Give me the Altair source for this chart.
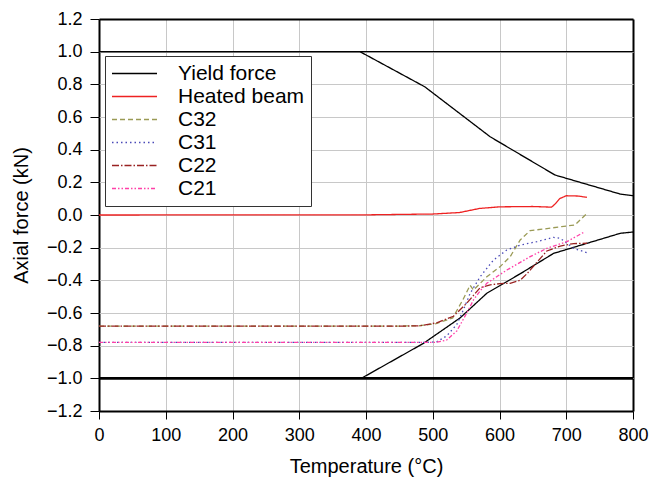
import altair as alt
import pandas as pd

# ---------------- data ----------------
series_order = ["Yield force", "Heated beam", "C32", "C31", "C22", "C21"]
series_colors = ["#000000", "#ee2222", "#9a9a55", "#4a4ab8", "#992222", "#ff40a8"]
series_dashes = [[1, 0], [1, 0], [5, 3], [1.5, 3], [7, 2, 1.5, 2], [4, 2, 1.5, 2, 1.5, 2]]

yield_upper_T = [0, 391, 488, 586, 683, 781, 800]
yield_upper_v = [1.0, 1.0, 0.785, 0.479, 0.245, 0.128, 0.118]

yield_lower_T = [0, 393, 486, 541, 581, 631, 681, 781, 800]
yield_lower_v = [-1.0, -1.0, -0.786, -0.63, -0.479, -0.36, -0.235, -0.112, -0.104]

heated_T = [0, 400, 500, 540, 570, 600, 650, 678, 684, 690, 700, 718, 731]
heated_v = [0.0, 0.001, 0.006, 0.015, 0.04, 0.05, 0.052, 0.048, 0.07, 0.1, 0.118, 0.116, 0.108]

c32_T = [0, 450, 480, 505, 530, 545, 556, 561, 581, 601, 616, 631, 646, 666, 693, 713, 718, 731]
c32_v = [-0.68, -0.68, -0.678, -0.665, -0.63, -0.52, -0.43, -0.46, -0.378, -0.316, -0.255,
         -0.153, -0.095, -0.086, -0.071, -0.061, -0.041, 0.01]

c31_T = [0, 490, 506, 521, 536, 546, 556, 571, 591, 611, 631, 656, 681, 691, 701, 711, 731]
c31_v = [-0.78, -0.78, -0.776, -0.74, -0.67, -0.58, -0.48, -0.378, -0.276, -0.214, -0.184,
         -0.163, -0.137, -0.143, -0.173, -0.204, -0.231]

c22_T = [0, 460, 481, 506, 531, 551, 571, 586, 601, 616, 631, 641, 656, 671, 691, 711, 731]
c22_v = [-0.68, -0.68, -0.678, -0.66, -0.62, -0.54, -0.445, -0.428, -0.42, -0.418, -0.40,
         -0.36, -0.29, -0.22, -0.19, -0.175, -0.173]

c21_T = [0, 505, 521, 536, 551, 561, 571, 581, 611, 646, 671, 701, 728]
c21_v = [-0.78, -0.78, -0.765, -0.71, -0.6, -0.52, -0.465, -0.418, -0.337, -0.255, -0.204,
         -0.163, -0.102]

limit_upper = [1.0]
limit_lower = [-1.0]

x_ticks = [0, 100, 200, 300, 400, 500, 600, 700, 800]
y_ticks = [-1.2, -1.0, -0.8, -0.6, -0.4, -0.2, 0.0, 0.2, 0.4, 0.6, 0.8, 1.0, 1.2]

# ---------------- table ----------------
rows = []
def add(name, seg, Ts, vs):
    for t, v in zip(Ts, vs):
        rows.append({"T": t, "v": v, "series": name, "seg": seg})

add("Yield force", "upper", yield_upper_T, yield_upper_v)
add("Yield force", "lower", yield_lower_T, yield_lower_v)
add("Heated beam", "hb", heated_T, heated_v)
add("C32", "c32", c32_T, c32_v)
add("C31", "c31", c31_T, c31_v)
add("C22", "c22", c22_T, c22_v)
add("C21", "c21", c21_T, c21_v)
df = pd.DataFrame(rows)

FONT = "Liberation Sans"
GRID = "#c8c8c8"

xscale = alt.Scale(domain=[0, 800], nice=False, zero=False)
yscale = alt.Scale(domain=[-1.2, 1.2], nice=False, zero=False)

x_edge = "datum.value <= 0 || datum.value >= 800"
y_edge = "datum.value <= -1.19 || datum.value >= 1.19"

xaxis = alt.Axis(values=x_ticks, title="Temperature (°C)", grid=True,
                 gridColor={"condition": {"test": x_edge, "value": "black"}, "value": GRID},
                 gridWidth={"condition": {"test": x_edge, "value": 2}, "value": 1},
                 domain=False, tickColor="black", tickSize=8, labelFontSize=18,
                 labelFont=FONT, labelColor="black", labelPadding=7, titleFont=FONT,
                 titleFontSize=20, titleFontWeight="normal", titleColor="black",
                 titlePadding=12, labelFlush=False, labelOverlap=False)
yaxis = alt.Axis(values=y_ticks, format=".1f", title="Axial force (kN)", grid=True,
                 gridColor={"condition": {"test": y_edge, "value": "black"}, "value": GRID},
                 gridWidth={"condition": {"test": y_edge, "value": 2}, "value": 1},
                 domain=False, tickColor="black",
                 tickSize=9, labelFontSize=18, labelFont=FONT, labelColor="black",
                 labelPadding=8, titleFont=FONT, titleFontSize=20, titleFontWeight="normal",
                 titleColor="black", titlePadding=15, labelOverlap=False)

legend = alt.Legend(orient="none", legendX=6, legendY=37, title=None, symbolType="stroke",
                    symbolSize=2025, symbolStrokeWidth=1.4, labelFontSize=21, labelFont=FONT,
                    labelColor="black", fillColor="white", strokeColor="#333333",
                    padding=6, clipHeight=23, rowPadding=0, labelOffset=20)

lines = alt.Chart(df).mark_line(strokeWidth=1.3).encode(
    x=alt.X("T:Q", scale=xscale, axis=xaxis),
    y=alt.Y("v:Q", scale=yscale, axis=yaxis),
    color=alt.Color("series:N", scale=alt.Scale(domain=series_order, range=series_colors),
                    legend=legend),
    strokeDash=alt.StrokeDash("series:N",
                              scale=alt.Scale(domain=series_order, range=series_dashes),
                              legend=legend),
    detail="seg:N",
    order="T:Q",
)

rule_up = alt.Chart(pd.DataFrame({"level": limit_upper})).mark_rule(
    color="black", strokeWidth=1.3).encode(y=alt.Y("level:Q", scale=yscale, axis=yaxis))
rule_dn = alt.Chart(pd.DataFrame({"level": limit_lower})).mark_rule(
    color="black", strokeWidth=2.6).encode(y=alt.Y("level:Q", scale=yscale, axis=yaxis))

chart = alt.layer(lines, rule_up, rule_dn).properties(
    width=534, height=392,
    autosize=alt.AutoSizeParams(type="none"),
    padding={"left": 99, "top": 19, "right": 20, "bottom": 68},
).configure_view(stroke="black", strokeWidth=2).configure(background="white")

chart.save("out.html", embed_options={"renderer": "svg", "actions": False})
